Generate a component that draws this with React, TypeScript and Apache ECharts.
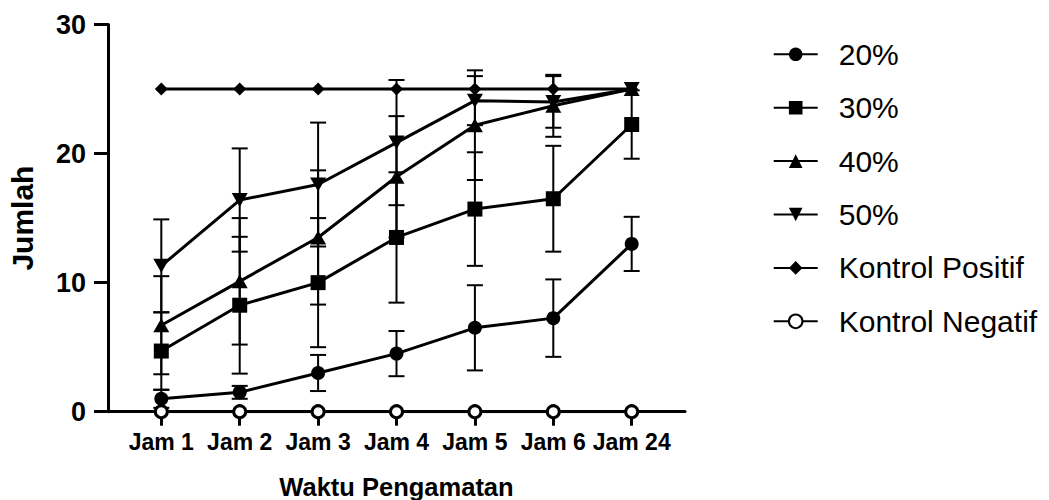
import React, { useEffect, useRef } from "react";
import * as echarts from "echarts";

const categories = ["Jam 1", "Jam 2", "Jam 3", "Jam 4", "Jam 5", "Jam 6", "Jam 24"];
const catIndex = [1, 2, 3, 4, 5, 6, 7];

const s20 = [1.0, 1.5, 3.0, 4.5, 6.5, 7.25, 13.0];
const e20 = [0.7, 0.5, 1.4, 1.75, 3.3, 3.0, 2.1];
const s30 = [4.7, 8.25, 10.0, 13.5, 15.7, 16.5, 22.25];
const e30 = [3.0, 5.3, 5.0, 5.05, 4.4, 4.1, 2.65];
const s40 = [6.7, 10.1, 13.5, 18.2, 22.2, 23.7, 25];
const e40 = [3.8, 4.9, 5.2, 4.7, 4.25, 2.4, 0];
const s50 = [11.3, 16.4, 17.6, 20.85, 24.1, 24.0, 25];
const e50 = [3.6, 4.0, 4.8, 4.85, 1.9, 2.0, 0];
const sPos = [25, 25, 25, 25, 25, 25, 25];
const sNeg = [0, 0, 0, 0, 0, 0, 0];

const seriesNames = ["20%", "30%", "40%", "50%", "Kontrol Positif", "Kontrol Negatif"];

const FONT = "'Liberation Sans', Arial, Helvetica, sans-serif";

export default function App() {
  const ref = useRef<HTMLDivElement>(null);
  useEffect(() => {
    if (!ref.current) return;
    const chart = echarts.init(ref.current, null, { renderer: "svg" });

    const pts = (vals: number[]) => vals.map((v, i) => [catIndex[i], v]);
    const errPts = (vals: number[], errs: number[]) => vals.map((v, i) => [catIndex[i], v, errs[i]]);

    const errSeries = (name: string, vals: number[], errs: number[]) => ({
      type: "custom",
      name,
      z: 2,
      silent: true,
      encode: { x: 0, y: 1 },
      data: errPts(vals, errs),
      renderItem: (params: any, api: any) => {
        const x = api.value(0);
        const y = api.value(1);
        const e = api.value(2);
        if (!e) return { type: "group", children: [] };
        const top = api.coord([x, y + e]);
        const bot = api.coord([x, y - e]);
        const hw = 8;
        const style = { stroke: "#000", lineWidth: 2, fill: "none" };
        return {
          type: "group",
          children: [
            { type: "line", shape: { x1: top[0], y1: top[1], x2: bot[0], y2: bot[1] }, style },
            { type: "line", shape: { x1: top[0] - hw, y1: top[1], x2: top[0] + hw, y2: top[1] }, style },
            { type: "line", shape: { x1: bot[0] - hw, y1: bot[1], x2: bot[0] + hw, y2: bot[1] }, style },
          ],
        };
      },
    });

    const lineSeries = (name: string, vals: number[], symbol: string, size: any, extra: any = {}) => ({
      type: "line",
      name,
      z: 3,
      data: pts(vals),
      symbol,
      symbolSize: size,
      showSymbol: true,
      lineStyle: { color: "#000", width: 3 },
      itemStyle: { color: "#000" },
      emphasis: { disabled: true },
      ...extra,
    });

    const option: any = {
      animation: false,
      backgroundColor: "#fff",
      textStyle: { fontFamily: FONT, color: "#000" },
      grid: { left: 108, right: 364, top: 24.5, bottom: 88.3, containLabel: false, outerBoundsMode: "none" },
      legend: {
        data: seriesNames,
        orient: "vertical",
        left: 772.7,
        top: 38.3,
        padding: 0,
        itemWidth: 44,
        itemHeight: 17,
        itemGap: 21.4,
        selectedMode: false,
        textStyle: { fontFamily: FONT, fontSize: 30, color: "#000", lineHeight: 32, padding: [0, 0, 0, 16] },
      },
      xAxis: {
        type: "value",
        min: 0.32,
        max: 7.68,
        name: "Waktu Pengamatan",
        nameLocation: "middle",
        nameGap: 62,
        nameTextStyle: { fontFamily: FONT, fontSize: 25.5, fontWeight: "bold", color: "#000" },
        axisLine: { show: true, lineStyle: { color: "#000", width: 3 } },
        axisTick: { show: true, customValues: catIndex, length: 14, lineStyle: { color: "#000", width: 3 } },
        axisLabel: {
          customValues: catIndex,
          formatter: (v: number) => categories[Math.round(v) - 1] ?? "",
          fontFamily: FONT,
          fontSize: 23,
          fontWeight: "bold",
          color: "#000",
          margin: 19,
        },
        splitLine: { show: false },
      },
      yAxis: {
        type: "value",
        min: 0,
        max: 30,
        interval: 10,
        name: "Jumlah",
        nameLocation: "middle",
        nameGap: 71,
        nameRotate: 90,
        nameTextStyle: { fontFamily: FONT, fontSize: 30, fontWeight: "bold", color: "#000" },
        axisLine: { show: true, lineStyle: { color: "#000", width: 3 } },
        axisTick: { show: true, length: 14, lineStyle: { color: "#000", width: 3 } },
        axisLabel: { fontFamily: FONT, fontSize: 27, fontWeight: "bold", color: "#000", margin: 22 },
        splitLine: { show: false },
      },
      series: [
        errSeries("20% SD", s20, e20),
        errSeries("30% SD", s30, e30),
        errSeries("40% SD", s40, e40),
        errSeries("50% SD", s50, e50),
        lineSeries("20%", s20, "circle", 14),
        lineSeries("30%", s30, "rect", 15),
        lineSeries("40%", s40, "triangle", [16, 14]),
        lineSeries("50%", s50, "path://M0,0L2,0L1,2Z", [16, 14]),
        lineSeries("Kontrol Positif", sPos, "diamond", 13),
        lineSeries("Kontrol Negatif", sNeg, "circle", 12, {
          itemStyle: { color: "#fff", borderColor: "#000", borderWidth: 3 },
        }),
      ],
    };
    chart.setOption(option);
    return () => chart.dispose();
  }, []);

  return (
    <div
      ref={ref}
      style={{ position: "absolute", left: 0, top: 0, width: 1049, height: 500, background: "#fff" }}
    />
  );
}
